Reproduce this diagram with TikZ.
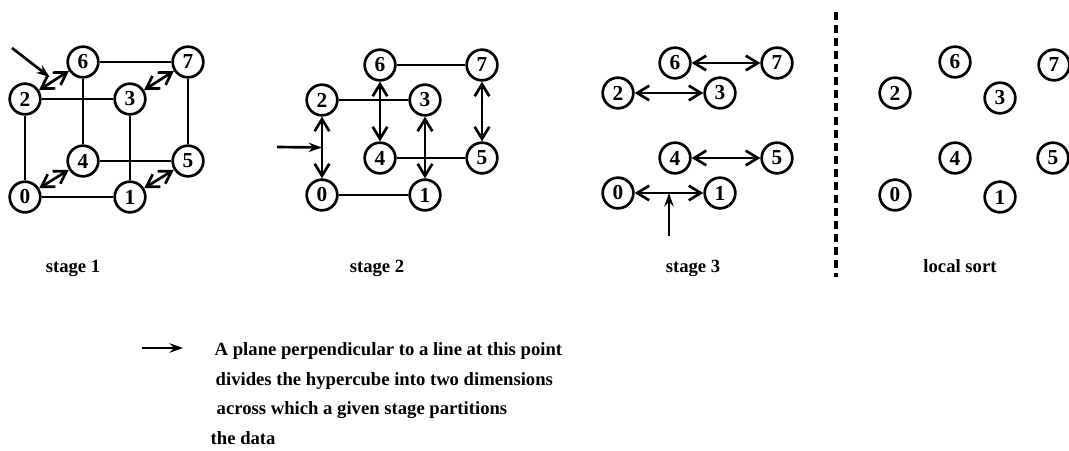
\documentclass[tikz,border=0pt]{standalone}
\usepackage{fontspec}
\setmainfont{Liberation Serif}
\usepackage{tikz}
\usetikzlibrary{arrows.meta, positioning, calc}

\tikzset{
  vtx/.style={circle, draw, line width=2pt, minimum size=23pt, inner sep=0pt,
    font=\bfseries\fontsize{16}{16}\selectfont},
  link/.style={line width=2pt},
  swap/.style={line width=2pt, {Straight Barb[length=9pt,width=11pt]}-{Straight Barb[length=9pt,width=11pt]}},
  probe/.style={line width=2pt, -{Stealth[length=10pt,width=7pt]}},
  stagelbl/.style={anchor=base, font=\bfseries\fontsize{14}{14}\selectfont},
  note/.style={anchor=base west, font=\bfseries\fontsize{14}{14}\selectfont},
}

\begin{document}
\begin{tikzpicture}[x=0.75pt, y=-0.75pt]
  \useasboundingbox (0,0) rectangle (1069,450);

  % stage 1: full cube, exchange along the depth edges
  \foreach \n/\x/\y in {0/25/197, 1/130/197, 2/25/99, 3/130/99,
                        4/83/161, 5/188/161, 6/83/62, 7/188/62}
    \node[vtx] (a\n) at (\x,\y) {\n};
  \draw[link] (a0) -- (a1) (a2) -- (a3) (a4) -- (a5) (a6) -- (a7);
  \draw[link] (a0) -- (a2) (a1) -- (a3) (a4) -- (a6) (a5) -- (a7);
  \draw[swap] (a0) -- (a4);
  \draw[swap] (a1) -- (a5);
  \draw[swap] (a2) -- (a6);
  \draw[swap] (a3) -- (a7);
  \coordinate (t1) at (12,48);
  \coordinate (p1) at ($(a2)!0.5!(a6)$);
  \draw[probe, shorten >=4pt] (t1) -- (p1);
  \node[stagelbl] (l1) at (73,272) {stage 1};

  % stage 2: exchange along the vertical edges
  \foreach \n/\x/\y in {0/322/195, 1/425/195, 2/322/100, 3/425/100,
                        4/380/158, 5/482/158, 6/380/65, 7/482/65}
    \node[vtx] (b\n) at (\x,\y) {\n};
  \draw[link] (b0) -- (b1) (b2) -- (b3) (b4) -- (b5) (b6) -- (b7);
  \draw[swap] (b0) -- (b2);
  \draw[swap] (b1) -- (b3);
  \draw[swap] (b4) -- (b6);
  \draw[swap] (b5) -- (b7);
  \coordinate (t2) at (277,147);
  \coordinate (p2) at ($(b0)!0.5!(b2)$);
  \draw[probe] (t2) -- (p2);
  \node[stagelbl] (l2) at (377,272) {stage 2};

  % stage 3: exchange along the horizontal edges
  \foreach \n/\x/\y in {0/618/193, 1/720/193, 2/618/93, 3/720/93,
                        4/675/158, 5/777/158, 6/675/63, 7/777/63}
    \node[vtx] (c\n) at (\x,\y) {\n};
  \draw[swap] (c0) -- (c1);
  \draw[swap] (c2) -- (c3);
  \draw[swap] (c4) -- (c5);
  \draw[swap] (c6) -- (c7);
  \coordinate (t3) at (669,236);
  \coordinate (p3) at ($(c0)!0.5!(c1)$);
  \draw[probe] (t3) -- (p3);
  \node[stagelbl] (l3) at (693,272) {stage 3};

  % divider
  \coordinate (s0) at (836,12);
  \coordinate (s1) at (836,277);
  \draw[line width=2.4pt, dash pattern=on 6pt off 3.8pt] (s0) -- (s1);

  % local sort: nodes only
  \foreach \n/\x/\y in {0/895/195, 1/1000/197, 2/895/93, 3/1000/98,
                        4/955/158, 5/1053/158, 6/955/62, 7/1054/65}
    \node[vtx] (d\n) at (\x,\y) {\n};
  \node[stagelbl] (l4) at (960,272) {local sort};

  % legend
  \coordinate (k0) at (142,348);
  \coordinate (k1) at (183,348);
  \draw[probe] (k0) -- (k1);
  \node[note] (n1) at (210,355) {A plane perpendicular to a line at this point};
  \node[note] (n2) at (211,385) {divides the hypercube into two dimensions};
  \node[note] (n3) at (212,414) {across which a given stage partitions};
  \node[note] (n4) at (206,444) {the data};
\end{tikzpicture}
\end{document}
